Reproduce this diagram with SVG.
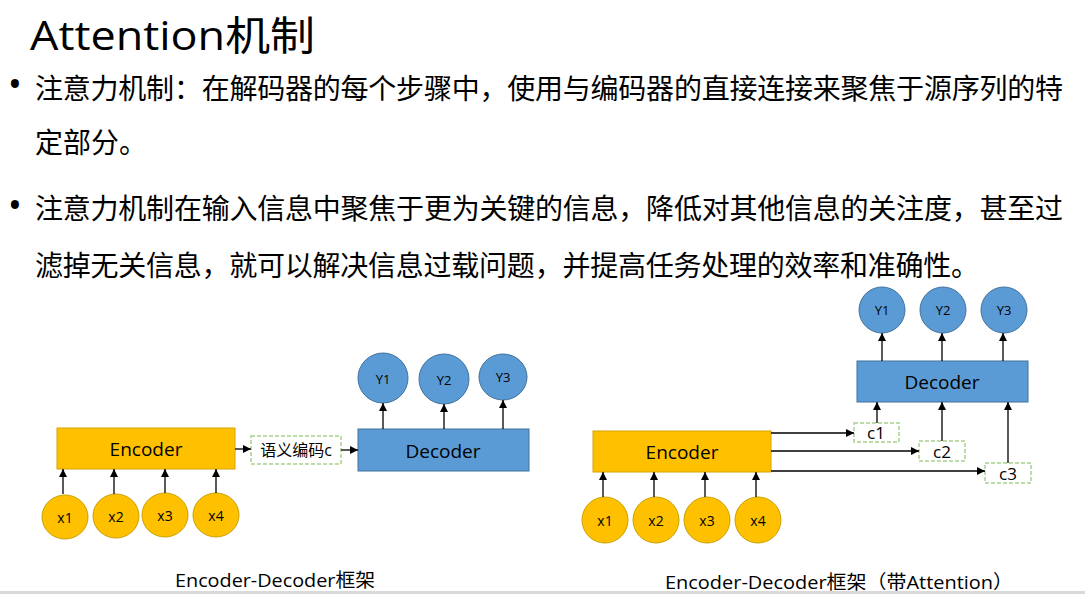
<svg xmlns="http://www.w3.org/2000/svg" width="1085" height="594" viewBox="0 0 1085 594">
<style>
.cjk{font-family:"Noto Sans CJK SC","Open Sans",sans-serif;fill:#000}
.lat{font-family:"Open Sans","Noto Sans CJK SC",sans-serif;fill:#000}
.enc{fill:#FFC000;stroke:#D6A300;stroke-width:1}
.dec{fill:#5B9BD5;stroke:#41719C;stroke-width:1}
.xin{fill:#FFC000;stroke:#C9A000;stroke-width:1}
.yout{fill:#5B9BD5;stroke:#41719C;stroke-width:1}
.cbox{fill:#fff;stroke:#A9D18E;stroke-width:1.5;stroke-dasharray:4 2}
.lbl{font-family:"Open Sans","Noto Sans CJK SC",sans-serif;fill:#000;text-anchor:middle;dominant-baseline:central}
.edge{stroke:#000;stroke-width:1.3;fill:none;marker-end:url(#ah)}
</style>
<defs>
<marker id="ah" markerUnits="userSpaceOnUse" markerWidth="9" markerHeight="8" refX="8" refY="4" orient="auto">
<path d="M0,0 L8,4 L0,8 Z" fill="#000"/>
</marker>
</defs>
<rect x="0" y="0" width="1085" height="594" fill="#fff"/>
<rect x="0" y="591" width="1085" height="3" fill="#d9d9d9"/>

<text class="lat" x="30" y="50" font-size="40" textLength="285" lengthAdjust="spacingAndGlyphs">Attention机制</text>

<text class="lat" x="15" y="98" font-size="38" text-anchor="middle">•</text>
<text class="cjk" x="35" y="99" font-size="28" textLength="1028" lengthAdjust="spacing">注意力机制：在解码器的每个步骤中，使用与编码器的直接连接来聚焦于源序列的特</text>
<text class="cjk" x="35" y="153" font-size="28">定部分。</text>
<text class="lat" x="15" y="219" font-size="38" text-anchor="middle">•</text>
<text class="cjk" x="35" y="219" font-size="28" textLength="1028" lengthAdjust="spacing">注意力机制在输入信息中聚焦于更为关键的信息，降低对其他信息的关注度，甚至过</text>
<text class="cjk" x="35" y="276" font-size="28" textLength="944" lengthAdjust="spacing">滤掉无关信息，就可以解决信息过载问题，并提高任务处理的效率和准确性。</text>

<!-- Left diagram -->
<g id="l-encoder"><rect class="enc" x="57" y="428" width="178" height="41"/><text class="lbl" x="146" y="449" font-size="19">Encoder</text></g>
<g id="l-decoder"><rect class="dec" x="358" y="429" width="171" height="42"/><text class="lbl" x="443" y="451" font-size="19">Decoder</text></g>
<g id="l-c"><rect class="cbox" x="251" y="436" width="90" height="28"/><text class="lbl" x="296" y="450" font-size="16">语义编码c</text></g>
<g id="l-x1"><ellipse class="xin" cx="65" cy="517" rx="23" ry="22"/><text class="lbl" x="65" y="517" font-size="14">x1</text></g>
<g id="l-x2"><ellipse class="xin" cx="116" cy="516" rx="23" ry="22"/><text class="lbl" x="116" y="516" font-size="14">x2</text></g>
<g id="l-x3"><ellipse class="xin" cx="165" cy="515" rx="23" ry="22"/><text class="lbl" x="165" y="515" font-size="14">x3</text></g>
<g id="l-x4"><ellipse class="xin" cx="216" cy="515" rx="23" ry="22"/><text class="lbl" x="216" y="515" font-size="14">x4</text></g>
<g id="l-y1"><ellipse class="yout" cx="383" cy="378" rx="25" ry="25"/><text class="lbl" x="383" y="379" font-size="13">Y1</text></g>
<g id="l-y2"><ellipse class="yout" cx="444" cy="379" rx="25" ry="25"/><text class="lbl" x="444" y="380" font-size="13">Y2</text></g>
<g id="l-y3"><ellipse class="yout" cx="503" cy="377" rx="24" ry="23"/><text class="lbl" x="503" y="377" font-size="13">Y3</text></g>

<!-- Right diagram -->
<g id="r-encoder"><rect class="enc" x="593" y="431" width="178" height="41"/><text class="lbl" x="682" y="452" font-size="19">Encoder</text></g>
<g id="r-decoder"><rect class="dec" x="857" y="361" width="171" height="41"/><text class="lbl" x="942" y="382" font-size="19">Decoder</text></g>
<g id="r-c1"><rect class="cbox" x="854" y="423" width="45" height="19"/><text class="lbl" x="876" y="432" font-size="17">c1</text></g>
<g id="r-c2"><rect class="cbox" x="919" y="441" width="46" height="20"/><text class="lbl" x="942" y="451" font-size="17">c2</text></g>
<g id="r-c3"><rect class="cbox" x="985" y="463" width="46" height="20"/><text class="lbl" x="1008" y="473" font-size="17">c3</text></g>
<g id="r-x1"><ellipse class="xin" cx="605" cy="520" rx="23" ry="23"/><text class="lbl" x="605" y="520" font-size="14">x1</text></g>
<g id="r-x2"><ellipse class="xin" cx="656" cy="520" rx="23" ry="23"/><text class="lbl" x="656" y="520" font-size="14">x2</text></g>
<g id="r-x3"><ellipse class="xin" cx="707" cy="520" rx="23" ry="23"/><text class="lbl" x="707" y="520" font-size="14">x3</text></g>
<g id="r-x4"><ellipse class="xin" cx="758" cy="520" rx="23" ry="23"/><text class="lbl" x="758" y="520" font-size="14">x4</text></g>
<g id="r-y1"><ellipse class="yout" cx="882" cy="310" rx="23" ry="23"/><text class="lbl" x="882" y="310" font-size="13">Y1</text></g>
<g id="r-y2"><ellipse class="yout" cx="943" cy="310" rx="23" ry="23"/><text class="lbl" x="943" y="310" font-size="13">Y2</text></g>
<g id="r-y3"><ellipse class="yout" cx="1004" cy="310" rx="23" ry="23"/><text class="lbl" x="1004" y="310" font-size="13">Y3</text></g>

<g id="connectors">
<line class="edge" x1="63" y1="494" x2="63" y2="469"/>
<line class="edge" x1="114" y1="494" x2="114" y2="469"/>
<line class="edge" x1="165" y1="493" x2="165" y2="469"/>
<line class="edge" x1="216" y1="493" x2="216" y2="469"/>
<line class="edge" x1="235" y1="449" x2="251" y2="449"/>
<line class="edge" x1="341" y1="450" x2="358" y2="450"/>
<line class="edge" x1="383" y1="429" x2="383" y2="403"/>
<line class="edge" x1="444" y1="429" x2="444" y2="404"/>
<line class="edge" x1="503" y1="429" x2="503" y2="400"/>

<line class="edge" x1="603" y1="497" x2="603" y2="472"/>
<line class="edge" x1="654" y1="497" x2="654" y2="472"/>
<line class="edge" x1="705" y1="497" x2="705" y2="472"/>
<line class="edge" x1="756" y1="497" x2="756" y2="472"/>
<line class="edge" x1="771" y1="433" x2="854" y2="433"/>
<line class="edge" x1="771" y1="451" x2="919" y2="451"/>
<line class="edge" x1="771" y1="471" x2="985" y2="471"/>
<line class="edge" x1="877" y1="423" x2="877" y2="402"/>
<line class="edge" x1="942" y1="441" x2="942" y2="402"/>
<line class="edge" x1="1008" y1="463" x2="1008" y2="402"/>
<line class="edge" x1="882" y1="361" x2="882" y2="333"/>
<line class="edge" x1="942" y1="361" x2="942" y2="333"/>
<line class="edge" x1="1003" y1="361" x2="1003" y2="333"/>
</g>

<text class="lat" x="175" y="587" font-size="19" textLength="200" lengthAdjust="spacingAndGlyphs">Encoder-Decoder框架</text>
<text class="lat" x="665" y="589" font-size="19" textLength="348" lengthAdjust="spacingAndGlyphs">Encoder-Decoder框架（带Attention）</text>
</svg>
